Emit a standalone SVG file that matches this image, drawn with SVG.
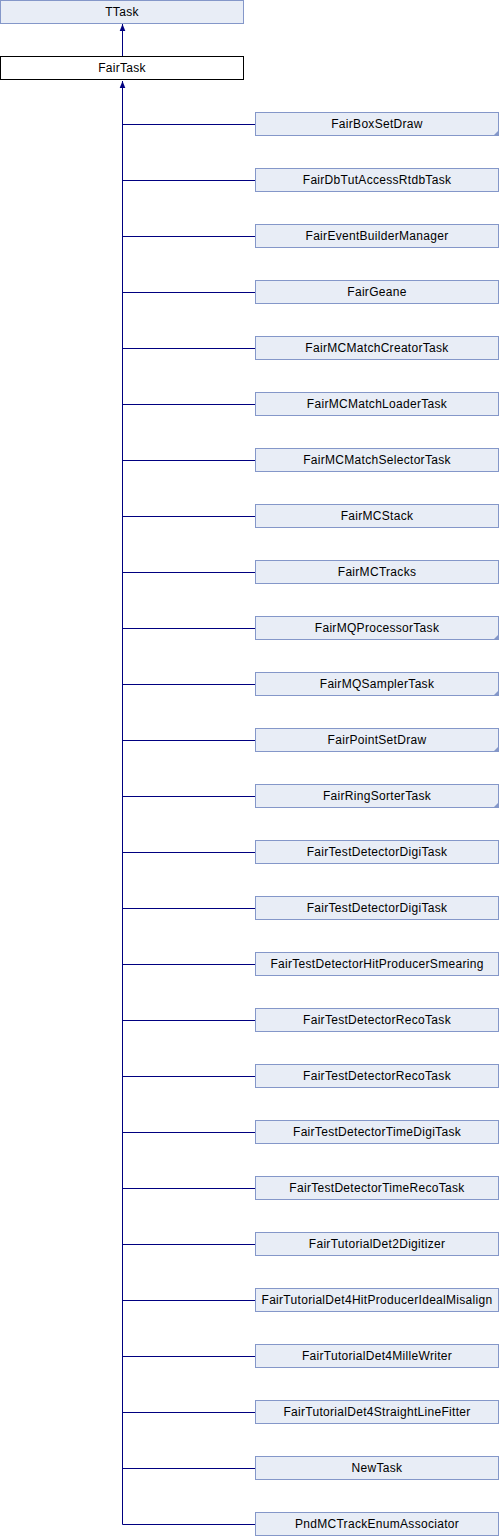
<svg xmlns="http://www.w3.org/2000/svg" width="500" height="1536" viewBox="0 0 500 1536">
<style>
.b{fill:#e8edf6;stroke:#8497c9;stroke-width:1}
.w{fill:#ffffff;stroke:#000000;stroke-width:1}
.t{font-family:"Liberation Sans",Arial,sans-serif;font-size:12px;letter-spacing:0.3px;fill:#000;text-anchor:middle}
.c{stroke:#000080;stroke-width:1;fill:none}
.tri{fill:#8497c9}
</style>
<defs>
<marker id="a" viewBox="0 0 10 10" refX="10" refY="5" markerWidth="7" markerHeight="7" orient="auto" markerUnits="userSpaceOnUse">
<path d="M0,1 L10,5 L0,9 z" fill="#000080"/>
</marker>
</defs>
<g id="connectors">
<line class="c" x1="122.5" y1="56" x2="122.5" y2="24" marker-end="url(#a)"/>
<line class="c" x1="122.5" y1="1524.5" x2="122.5" y2="81" marker-end="url(#a)"/>
<path class="c" d="M122.5,124.5H255.5M122.5,180.5H255.5M122.5,236.5H255.5M122.5,292.5H255.5M122.5,348.5H255.5M122.5,404.5H255.5M122.5,460.5H255.5M122.5,516.5H255.5M122.5,572.5H255.5M122.5,628.5H255.5M122.5,684.5H255.5M122.5,740.5H255.5M122.5,796.5H255.5M122.5,852.5H255.5M122.5,908.5H255.5M122.5,964.5H255.5M122.5,1020.5H255.5M122.5,1076.5H255.5M122.5,1132.5H255.5M122.5,1188.5H255.5M122.5,1244.5H255.5M122.5,1300.5H255.5M122.5,1356.5H255.5M122.5,1412.5H255.5M122.5,1468.5H255.5M122.5,1524.5H255.5"/>
</g>
<g id="TTask"><rect class="b" x="0.5" y="0.5" width="243" height="23"/><text class="t" x="122" y="16">TTask</text></g>
<g id="FairTask"><rect class="w" x="0.5" y="56.5" width="243" height="23"/><text class="t" x="122" y="72">FairTask</text></g>
<g id="n1"><rect class="b" x="255.5" y="112.5" width="243" height="23"/><path class="tri" d="M499,130 L499,136 L493,136 z"/><text class="t" x="377" y="128">FairBoxSetDraw</text></g>
<g id="n2"><rect class="b" x="255.5" y="168.5" width="243" height="23"/><text class="t" x="377" y="184">FairDbTutAccessRtdbTask</text></g>
<g id="n3"><rect class="b" x="255.5" y="224.5" width="243" height="23"/><text class="t" x="377" y="240">FairEventBuilderManager</text></g>
<g id="n4"><rect class="b" x="255.5" y="280.5" width="243" height="23"/><text class="t" x="377" y="296">FairGeane</text></g>
<g id="n5"><rect class="b" x="255.5" y="336.5" width="243" height="23"/><text class="t" x="377" y="352">FairMCMatchCreatorTask</text></g>
<g id="n6"><rect class="b" x="255.5" y="392.5" width="243" height="23"/><text class="t" x="377" y="408">FairMCMatchLoaderTask</text></g>
<g id="n7"><rect class="b" x="255.5" y="448.5" width="243" height="23"/><text class="t" x="377" y="464">FairMCMatchSelectorTask</text></g>
<g id="n8"><rect class="b" x="255.5" y="504.5" width="243" height="23"/><text class="t" x="377" y="520">FairMCStack</text></g>
<g id="n9"><rect class="b" x="255.5" y="560.5" width="243" height="23"/><text class="t" x="377" y="576">FairMCTracks</text></g>
<g id="n10"><rect class="b" x="255.5" y="616.5" width="243" height="23"/><path class="tri" d="M499,634 L499,640 L493,640 z"/><text class="t" x="377" y="632">FairMQProcessorTask</text></g>
<g id="n11"><rect class="b" x="255.5" y="672.5" width="243" height="23"/><path class="tri" d="M499,690 L499,696 L493,696 z"/><text class="t" x="377" y="688">FairMQSamplerTask</text></g>
<g id="n12"><rect class="b" x="255.5" y="728.5" width="243" height="23"/><path class="tri" d="M499,746 L499,752 L493,752 z"/><text class="t" x="377" y="744">FairPointSetDraw</text></g>
<g id="n13"><rect class="b" x="255.5" y="784.5" width="243" height="23"/><path class="tri" d="M499,802 L499,808 L493,808 z"/><text class="t" x="377" y="800">FairRingSorterTask</text></g>
<g id="n14"><rect class="b" x="255.5" y="840.5" width="243" height="23"/><text class="t" x="377" y="856">FairTestDetectorDigiTask</text></g>
<g id="n15"><rect class="b" x="255.5" y="896.5" width="243" height="23"/><text class="t" x="377" y="912">FairTestDetectorDigiTask</text></g>
<g id="n16"><rect class="b" x="255.5" y="952.5" width="243" height="23"/><text class="t" x="377" y="968">FairTestDetectorHitProducerSmearing</text></g>
<g id="n17"><rect class="b" x="255.5" y="1008.5" width="243" height="23"/><text class="t" x="377" y="1024">FairTestDetectorRecoTask</text></g>
<g id="n18"><rect class="b" x="255.5" y="1064.5" width="243" height="23"/><text class="t" x="377" y="1080">FairTestDetectorRecoTask</text></g>
<g id="n19"><rect class="b" x="255.5" y="1120.5" width="243" height="23"/><text class="t" x="377" y="1136">FairTestDetectorTimeDigiTask</text></g>
<g id="n20"><rect class="b" x="255.5" y="1176.5" width="243" height="23"/><text class="t" x="377" y="1192">FairTestDetectorTimeRecoTask</text></g>
<g id="n21"><rect class="b" x="255.5" y="1232.5" width="243" height="23"/><text class="t" x="377" y="1248">FairTutorialDet2Digitizer</text></g>
<g id="n22"><rect class="b" x="255.5" y="1288.5" width="243" height="23"/><text class="t" x="377" y="1304">FairTutorialDet4HitProducerIdealMisalign</text></g>
<g id="n23"><rect class="b" x="255.5" y="1344.5" width="243" height="23"/><text class="t" x="377" y="1360">FairTutorialDet4MilleWriter</text></g>
<g id="n24"><rect class="b" x="255.5" y="1400.5" width="243" height="23"/><text class="t" x="377" y="1416">FairTutorialDet4StraightLineFitter</text></g>
<g id="n25"><rect class="b" x="255.5" y="1456.5" width="243" height="23"/><text class="t" x="377" y="1472">NewTask</text></g>
<g id="n26"><rect class="b" x="255.5" y="1512.5" width="243" height="23"/><text class="t" x="377" y="1528">PndMCTrackEnumAssociator</text></g>
</svg>
